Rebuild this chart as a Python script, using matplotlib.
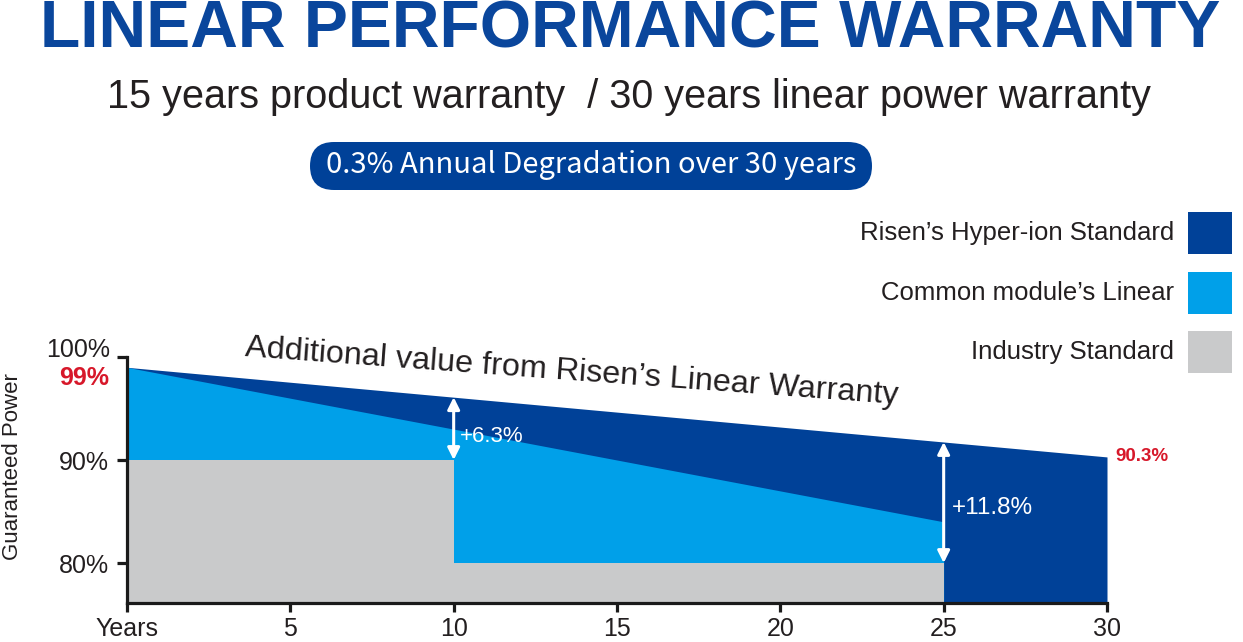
import numpy as np
import matplotlib
matplotlib.use("Agg")
import matplotlib.pyplot as plt
from matplotlib.patches import Rectangle, FancyBboxPatch

# ---------------- data ----------------
hyper_years = [0, 30]
hyper_power = [99.0, 90.3]
common_years = [0, 25]
common_power = [99.0, 84.0]
industry_years = [0, 10, 10, 25]
industry_power = [90.0, 90.0, 80.0, 80.0]
x_ticks = [0, 5, 10, 15, 20, 25, 30]
x_tick_labels = ["Years", "5", "10", "15", "20", "25", "30"]
y_ticks = [80, 90, 100]
y_tick_labels = ["80%", "90%", ""]
legend_labels = ["Risen\u2019s Hyper-ion Standard", "Common module\u2019s Linear", "Industry Standard"]
gain_years = [10, 25]
gain_labels = ["+6.3%", "+11.8%"]
gain_bottoms = [90.0, 80.0]

DARK = "#004198"
LIGHT = "#00a0e9"
GREY = "#c9cacb"
RED = "#d7182a"
TXT = "#231f20"

W, H = 1243, 642
fig = plt.figure(figsize=(W / 100, H / 100), dpi=100)

def fx(px):
    return px / W

def fy(py):
    return 1 - py / H

# axes placement
ax = fig.add_axes([fx(127), fy(603), (1107 - 127) / W, (603 - 357) / H])
ymin, ymax = 76.12, 100.0
ax.set_xlim(0, 30)
ax.set_ylim(ymin, ymax)

ax.fill_between(hyper_years, ymin, hyper_power, color=DARK, lw=0)
ax.fill_between(common_years, ymin, common_power, color=LIGHT, lw=0)
ax.fill_between(industry_years, ymin, industry_power, color=GREY, lw=0)

for s in ["top", "right"]:
    ax.spines[s].set_visible(False)
for s in ["left", "bottom"]:
    ax.spines[s].set_linewidth(2.3)
    ax.spines[s].set_color("#1a1a1a")
    ax.spines[s].set_zorder(5)

ax.set_xticks(x_ticks)
ax.set_xticklabels(x_tick_labels, fontsize=18, color=TXT, family="Liberation Sans")
ax.set_yticks(y_ticks)
ax.set_yticklabels(y_tick_labels, fontsize=18, color=TXT, family="Liberation Sans")
ax.tick_params(axis="x", direction="out", length=6.5, width=2.3, color="#1a1a1a", pad=3.5)
ax.tick_params(axis="y", direction="out", length=7, width=2.3, color="#1a1a1a", pad=6)

# 100% label (slightly raised) and red 99% label
ax.text(-0.017, 100.7, "100%", transform=ax.get_yaxis_transform(), ha="right", va="center",
        fontsize=18, color=TXT, family="Liberation Sans", clip_on=False)
ax.text(-0.018, 99.1, "99%", transform=ax.get_yaxis_transform(), ha="right", va="top",
        fontsize=18, color=RED, fontweight="bold", family="Liberation Sans", clip_on=False)

# end label 90.3%
ax.text(30.25, hyper_power[-1], "90.3%", ha="left", va="center", fontsize=13.5,
        color=RED, fontweight="bold", family="Liberation Sans", clip_on=False)

ax.set_ylabel("Guaranteed Power", fontsize=16, color=TXT, family="Liberation Sans")
ax.yaxis.set_label_coords(-0.106, 0.553)

# gain arrows
for gx, lab, gb in zip(gain_years, gain_labels, gain_bottoms):
    top = float(np.interp(gx, hyper_years, hyper_power))
    ax.annotate("", xy=(gx, gb), xytext=(gx, top),
                arrowprops=dict(arrowstyle="<|-|>", color="white", lw=2.2,
                                mutation_scale=18, shrinkA=0, shrinkB=0), zorder=6)
ax.text(10.2, 92.3, gain_labels[0], color="white", fontsize=16, va="center", ha="left",
        family="Liberation Sans")
ax.text(25.25, 85.3, gain_labels[1], color="white", fontsize=17.5, va="center", ha="left",
        family="Liberation Sans")

# slanted caption
ax.text(13.6, 98.5, "Additional value from Risen\u2019s Linear Warranty", rotation=-4.2,
        rotation_mode="anchor", ha="center", va="center", fontsize=23.3, color=TXT,
        family="Liberation Sans", clip_on=False)

# ---------------- header ----------------
fig.text(fx(630), fy(48), "LINEAR PERFORMANCE WARRANTY", ha="center", va="baseline",
         fontsize=47.5, fontweight="bold", color="#0a469c", family="Liberation Sans")
fig.text(fx(629), fy(108), "15 years product warranty  / 30 years linear power warranty",
         ha="center", va="baseline", fontsize=28.5, color=TXT, family="Liberation Sans")

pill = FancyBboxPatch((310, H - 190), 562, 48,
                      boxstyle="round,pad=0,rounding_size=24", transform=None,
                      facecolor=DARK, edgecolor="none")
fig.patches.append(pill)
fig.text(fx(591), fy(165), "0.3% Annual Degradation over 30 years", ha="center", va="center",
         fontsize=21, color="white", family="Noto Sans CJK SC")

# ---------------- legend ----------------
leg_colors = [DARK, LIGHT, GREY]
leg_y = [233, 293, 352]
for lab, col, yc in zip(legend_labels, leg_colors, leg_y):
    fig.text(fx(1174), fy(yc), lab, ha="right", va="center", fontsize=18.5, color=TXT,
             family="Liberation Sans")
    fig.patches.append(Rectangle((1188, H - yc - 21), 44, 42, transform=None,
                                 facecolor=col, edgecolor="none"))

fig.savefig("out.png", dpi=100)
